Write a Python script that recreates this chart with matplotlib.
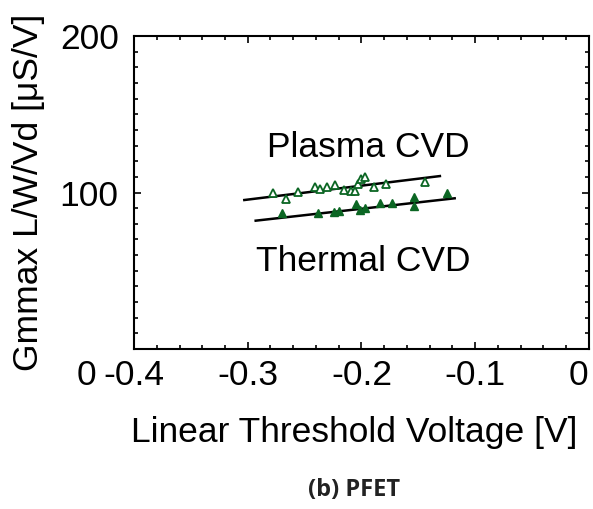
import numpy as np
import matplotlib
matplotlib.use("Agg")
import matplotlib.pyplot as plt
from matplotlib.ticker import MultipleLocator
import matplotlib.transforms as mtransforms

# 讀圖估出來的點 (Vt [V], Gmmax L/W/Vd [uS/V])
plasma_vt = [-0.278, -0.266, -0.256, -0.241, -0.236, -0.230, -0.223, -0.215,
             -0.209, -0.206, -0.203, -0.200, -0.197, -0.189, -0.178, -0.144]
plasma_gm = [99.5, 95.7, 100.5, 103.3, 102.0, 103.7, 104.8, 101.6,
             101.0, 101.0, 105.4, 108.4, 110.1, 103.3, 105.4, 106.9]
thermal_vt = [-0.270, -0.238, -0.224, -0.220, -0.205, -0.201, -0.197,
              -0.184, -0.173, -0.154, -0.154, -0.125]
thermal_gm = [86.7, 86.7, 87.7, 88.4, 92.7, 88.8, 89.9,
              93.5, 93.1, 97.3, 91.4, 99.5]
# 擬合線端點
plasma_fit_x = [-0.303, -0.131]
plasma_fit_y = [95.2, 110.5]
thermal_fit_x = [-0.293, -0.118]
thermal_fit_y = [82.0, 96.3]

xticks = [-0.4, -0.3, -0.2, -0.1, 0]
xticklabels = ["-0.4", "-0.3", "-0.2", "-0.1", "0"]
yticks = [0, 100, 200]

GREEN = "#0b6623"
plt.rcParams.update({"font.family": ["Liberation Sans", "DejaVu Sans"],
                     "font.size": 25.5})

fig = plt.figure(figsize=(5.93, 5.09), dpi=100)
ax = fig.add_axes([0.226, 0.3143, 0.767, 0.615])

ax.plot(plasma_fit_x, plasma_fit_y, color="k", lw=1.8)
ax.plot(thermal_fit_x, thermal_fit_y, color="k", lw=1.8)
ax.plot(plasma_vt, plasma_gm, ls="none", marker="^", ms=6, mfc="white",
        mec=GREEN, mew=1.3)
ax.plot(thermal_vt, thermal_gm, ls="none", marker="^", ms=6, mfc=GREEN,
        mec=GREEN, mew=1.0)

ax.text(-0.194, 129, "Plasma CVD", ha="center", va="center")
ax.text(-0.198, 55.6, "Thermal CVD", ha="center", va="center")

ax.set_xlim(-0.4, 0); ax.set_ylim(0, 200)
ax.set_xticks(xticks); ax.set_xticklabels(xticklabels)
ax.set_yticks(yticks)
ax.xaxis.set_minor_locator(MultipleLocator(0.02))
ax.yaxis.set_minor_locator(MultipleLocator(10))
ax.tick_params(which="both", direction="in", top=True, right=True, width=1.2)
ax.tick_params(which="major", length=5)
ax.tick_params(which="minor", length=3)
ax.tick_params(axis="x", which="major", pad=7)
ax.tick_params(axis="y", which="major", pad=11)
for s in ax.spines.values():
    s.set_linewidth(1.5)

# 原圖 y 軸的 0 往左下偏，x 軸的 0 往左偏一點
ylab0 = ax.get_yticklabels()[0]
ylab0.set_transform(ylab0.get_transform() +
                    mtransforms.ScaledTranslation(-22/100, -23/100, fig.dpi_scale_trans))
xlab0 = ax.get_xticklabels()[-1]
xlab0.set_transform(xlab0.get_transform() +
                    mtransforms.ScaledTranslation(-10/100, 0, fig.dpi_scale_trans))

ax.set_xlabel("Linear Threshold Voltage [V]", va="top")
ax.xaxis.set_label_coords(0.485, -0.215)
ax.set_ylabel("Gmmax L/W/Vd [\u03bcS/V]", va="center")
ax.yaxis.set_label_coords(-0.233, 0.5)

fig.text(0.597, 0.037, "(b) PFET", ha="center", va="center",
         fontsize=17, fontweight="bold", family=["Open Sans", "DejaVu Sans"],
         color="#222222")

fig.savefig("out.png", dpi=100)
